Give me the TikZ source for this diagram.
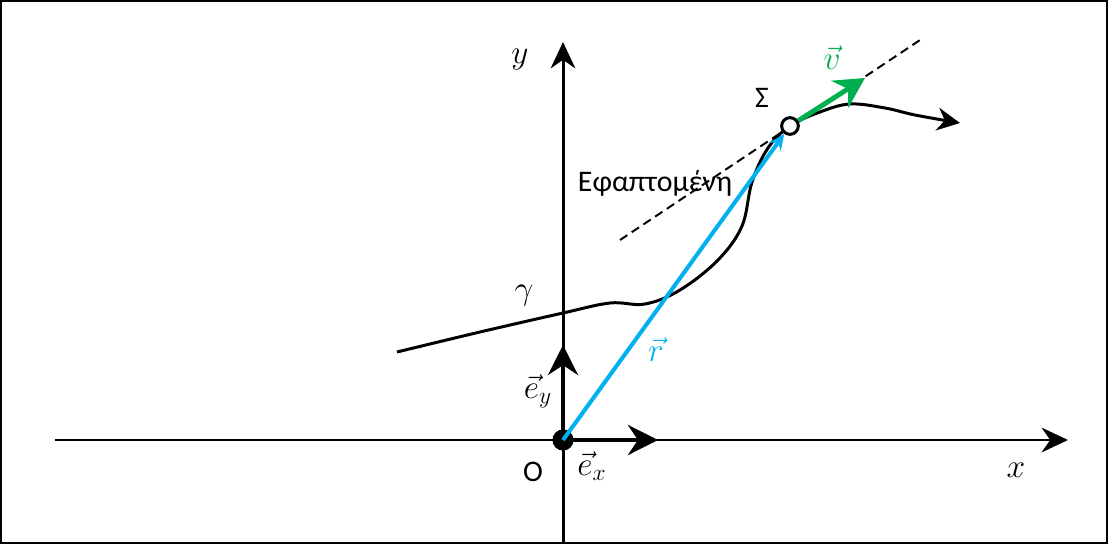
\documentclass[tikz,border=0pt]{standalone}
\usepackage{fix-cm}
\usepackage{fontspec}
\setmainfont{Carlito}
\usepackage{tikz}
\usetikzlibrary{positioning,arrows.meta,calc}
\definecolor{rCol}{HTML}{00B0F0}
\definecolor{vCol}{HTML}{00B050}

\begin{document}
\begin{tikzpicture}[
  x=0.02cm, y=-0.02cm,
  font=\fontsize{17}{20}\selectfont,
  axis/.style={line width=1.7pt, -{Stealth[length=15pt,width=14pt]}},
  unitvec/.style={line width=2.8pt, -{Stealth[length=17pt,width=17pt]}},
  rvec/.style={line width=2.3pt, draw=rCol, -{Stealth[length=9pt,width=8pt]}},
  vvec/.style={line width=2.8pt, draw=vCol, -{Stealth[length=17pt,width=18pt]}},
  traj/.style={line width=1.7pt, -{Stealth[length=13pt,width=13pt]}},
  tang/.style={line width=1.1pt, dash pattern=on 5pt off 3pt},
  mlabel/.style={font=\fontsize{19}{23}\selectfont},
]
\useasboundingbox (0,0) rectangle (1108,544);
\draw[line width=1.2pt] (1,1) rectangle (1107,543);

% ---- Axes ----
\coordinate (o)  at (563,440);
\coordinate (xl) at (55,440);
\coordinate (xr) at (1068,440);
\coordinate (yb) at (563,543);
\coordinate (yt) at (563,42);
\draw[axis] (xl) -- (xr);
\draw[axis] (yb) -- (yt);

% ---- Trajectory and tangent ----
\coordinate (s) at (790,126);
\draw[traj] plot[smooth, tension=0.6] coordinates {(397,352) (480,332) (563,313) (610,303)
  (645,304) (680,290) (718,260) (742,226) (752,182) (768,148) (s) (820,112) (850,104)
  (885,108) (915,115) (960,123)};
\coordinate (ta) at (620,240);
\coordinate (tb) at (920,40);
\draw[tang] (ta) -- (tb);

% ---- Points ----
\node[circle, fill=black, inner sep=0pt, minimum size=12pt] (O) at (o) {};
\node[circle, draw=black, line width=1.7pt, fill=white, inner sep=0pt, minimum size=9.5pt] (S) at (s) {};

% ---- Vectors ----
\coordinate (ex) at (658,440);
\coordinate (ey) at (563,345);
\coordinate (vt) at (865,78);
\draw[unitvec] (O.center) -- (ex);
\draw[unitvec] (O.center) -- (ey);
\draw[rvec] (O.center) -- (S);
\draw[vvec] (S) -- (vt);

% ---- Labels ----
\node[mlabel] at (520,60)  {$y$};
\node[mlabel] at (1016,470) {$x$};
\node at (533,472) {O};
\node[mlabel] at (592,466) {$\vec{e}_x$};
\node[mlabel] at (538,391) {$\vec{e}_y$};
\node[mlabel] at (524,296) {$\gamma$};
\node[mlabel, text=rCol] at (656,350) {$\vec{r}$};
\node[mlabel, text=vCol] at (832,58) {$\vec{v}$};
\node at (762,98) {Σ};
\node at (655,183) {Εφαπτομένη};

\end{tikzpicture}
\end{document}
